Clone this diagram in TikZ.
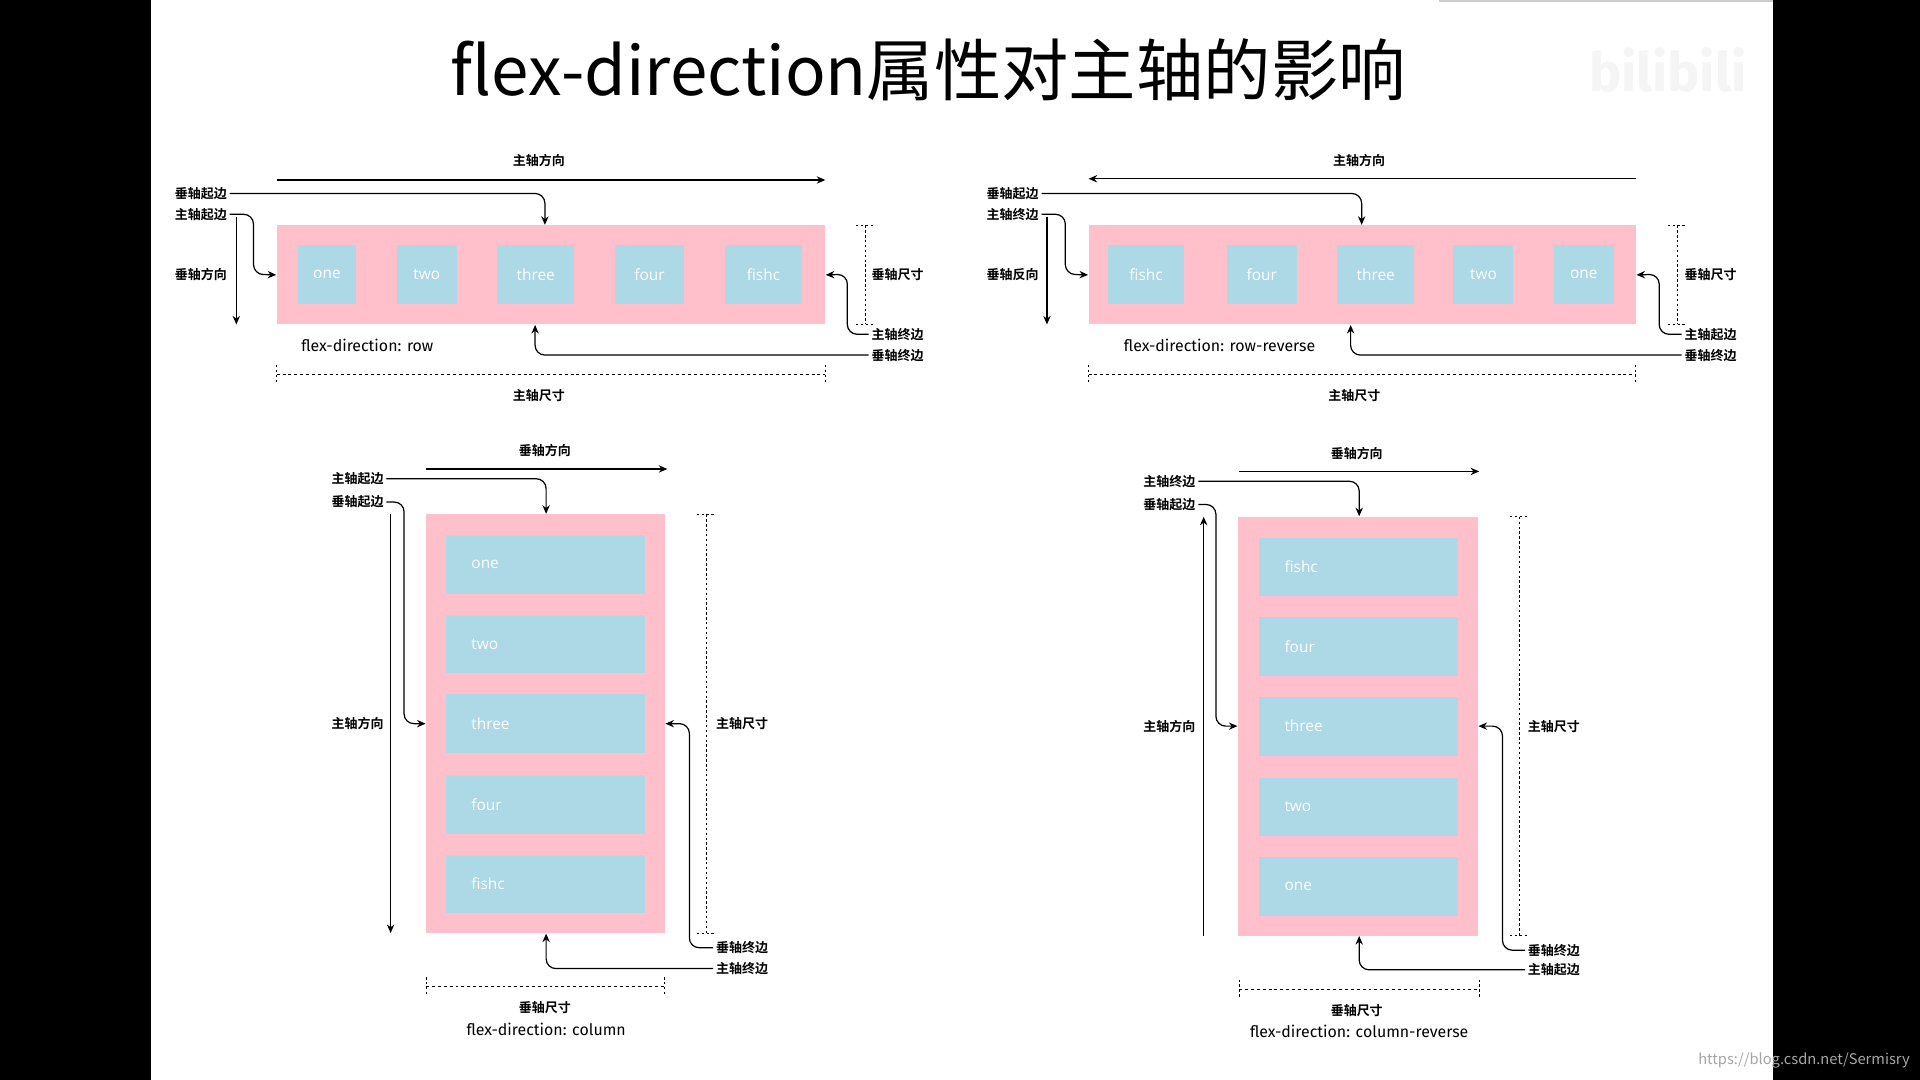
\documentclass[tikz,border=0pt]{standalone}
\usepackage{fontspec}
\setmainfont{Noto Sans CJK SC}
\newfontfamily\cjkb{Noto Sans CJK SC Bold}
\newfontfamily\itf{Open Sans}
\newfontfamily\capf{Fira Sans}
\usetikzlibrary{arrows.meta}
\definecolor{pinkc}{HTML}{FFC0CB}
\definecolor{bluec}{HTML}{ADD8E6}
\tikzset{
  lab/.style={font=\cjkb\fontsize{5.3}{6}\selectfont, inner sep=1pt},
  captext/.style={font=\capf\fontsize{6.5}{8}\selectfont, inner sep=1pt},
  pinkbox/.style={fill=pinkc, inner sep=0pt},
  item/.style={fill=bluec, inner sep=0pt, text=white, font=\itf\fontsize{6.3}{7}\selectfont},
  itemtext/.style={text=white, font=\itf\fontsize{6.3}{7}\selectfont, inner sep=0pt},
  arr/.style={-{Stealth[length=3.5pt,width=3pt]}, line width=0.5pt, rounded corners=4pt},
  ln/.style={line width=0.5pt},
  dim/.style={line width=0.4pt, dash pattern=on 1.2pt off 1.2pt},
  dimt/.style={line width=0.4pt, dash pattern=on 1pt off 1pt}
}
\newcommand\bx[7]{\node[#6, minimum width={(#4-#2)*0.5pt}, minimum height={(#5-#3)*0.5pt}] (#1) at ({(#2+#4)/2},{(#3+#5)/2}) {#7};}
\newcommand\cbx[7]{\node[#6, minimum width={(#4-#2)*0.5pt}, minimum height={(#5-#3)*0.5pt}, label={[itemtext,anchor=west,xshift=10.5pt]west:#7}] (#1) at ({(#2+#4)/2},{(#3+#5)/2}) {};}
\begin{document}
\begin{tikzpicture}[x=0.5pt,y=-0.5pt]
\fill[black] (0,0) rectangle (1568,882);
\useasboundingbox (0,0) rectangle (1568,882);
\fill[white] (123,0) rectangle (1448,882);
\fill[gray!40] (1175,0) rectangle (1448,2);
\node[font=\fontsize{27.5}{31}\selectfont, inner sep=0] (title) at (758,57) {flex-direction属性对主轴的影响};
\node[font=\capf\bfseries\fontsize{22}{24}\selectfont, text=gray!8, inner sep=0] (logo) at (1362,57) {bilibili};
\node[font=\fontsize{6}{7}\selectfont, text=gray!70, anchor=east, inner sep=0] (url) at (1560,866) {https://blog.csdn.net/Sermisry};

% ===== panel 1 : row =====
\bx{p1}{226}{184}{674}{265}{pinkbox}{}
\bx{a1}{243}{200}{291}{248}{item}{one}
\bx{b1}{324}{200}{373}{248}{item}{two}
\bx{c1}{406}{200}{469}{248}{item}{three}
\bx{d1}{502}{200}{559}{248}{item}{four}
\bx{e1}{592}{200}{655}{248}{item}{fishc}
\node[lab] (l1a) at (440,131) {主轴方向};
\coordinate (s1a) at (226,147); \coordinate (t1a) at (674,147);
\draw[arr] (s1a) -- (t1a);
\node[lab] (l1b) at (164,158) {垂轴起边};
\draw[arr] (l1b.east) -- (445,158) -- (p1.north-|445,0);
\node[lab] (l1c) at (164,175) {主轴起边};
\draw[arr] (l1c.east) -- (207,175) -- (207,224) -- (p1.west);
\node[lab] (l1d) at (164,224) {垂轴方向};
\coordinate (s1d) at (193,177); \coordinate (t1d) at (193,265);
\draw[arr] (s1d) -- (t1d);
\node[lab] (l1e) at (733,224) {垂轴尺寸};
\draw[dimt] (707,184) -- (707,265); \draw[dimt] (699,184) -- (715,184) (699,265) -- (715,265);
\node[lab] (l1f) at (733,273) {主轴终边};
\draw[arr] (l1f.west) -- (692,273) -- (692,224) -- (p1.east);
\node[lab] (l1g) at (733,290) {垂轴终边};
\draw[arr] (l1g.west) -- (437,290) -- (p1.south-|437,0);
\node[captext] (c1) at (300,282) {flex-direction: row};
\draw[dim] (226,306) -- (674,306); \draw[dimt] (226,298) -- (226,314) (674,298) -- (674,314);
\node[lab] (l1h) at (440,323) {主轴尺寸};

% ===== panel 2 : row-reverse =====
\bx{p2}{889}{184}{1336}{265}{pinkbox}{}
\bx{a2}{905}{200}{967}{248}{item}{fishc}
\bx{b2}{1002}{200}{1059}{248}{item}{four}
\bx{c2}{1092}{200}{1155}{248}{item}{three}
\bx{d2}{1187}{200}{1236}{248}{item}{two}
\bx{e2}{1269}{200}{1318}{248}{item}{one}
\node[lab] (l2a) at (1110,131) {主轴方向};
\coordinate (s2a) at (1336,146); \coordinate (t2a) at (889,146);
\draw[arr] (s2a) -- (t2a);
\node[lab] (l2b) at (827,158) {垂轴起边};
\draw[arr] (l2b.east) -- (1112,158) -- (p2.north-|1112,0);
\node[lab] (l2c) at (827,175) {主轴终边};
\draw[arr] (l2c.east) -- (870,175) -- (870,224) -- (p2.west);
\node[lab] (l2d) at (827,224) {垂轴反向};
\coordinate (s2d) at (855,177); \coordinate (t2d) at (855,265);
\draw[arr] (s2d) -- (t2d);
\node[lab] (l2e) at (1397,224) {垂轴尺寸};
\draw[dimt] (1370,184) -- (1370,265); \draw[dimt] (1362,184) -- (1378,184) (1362,265) -- (1378,265);
\node[lab] (l2f) at (1397,273) {主轴起边};
\draw[arr] (l2f.west) -- (1355,273) -- (1355,224) -- (p2.east);
\node[lab] (l2g) at (1397,290) {垂轴终边};
\draw[arr] (l2g.west) -- (1103,290) -- (p2.south-|1103,0);
\node[captext] (c2) at (996,282) {flex-direction: row-reverse};
\draw[dim] (889,306) -- (1336,306); \draw[dimt] (889,298) -- (889,314) (1336,298) -- (1336,314);
\node[lab] (l2h) at (1106,323) {主轴尺寸};

% ===== panel 3 : column =====
\bx{p3}{348}{420}{543}{762}{pinkbox}{}
\cbx{a3}{364}{437}{527}{485}{item}{one}
\cbx{b3}{364}{502}{527}{550}{item}{two}
\cbx{c3}{364}{567}{527}{615}{item}{three}
\cbx{d3}{364}{633}{527}{681}{item}{four}
\cbx{e3}{364}{698}{527}{746}{item}{fishc}
\node[lab] (l3a) at (445,368) {垂轴方向};
\coordinate (s3a) at (348,383); \coordinate (t3a) at (545,383);
\draw[arr] (s3a) -- (t3a);
\node[lab] (l3b) at (292,391) {主轴起边};
\draw[arr] (l3b.east) -- (446,391) -- (p3.north-|446,0);
\node[lab] (l3c) at (292,410) {垂轴起边};
\draw[arr] (l3c.east) -- (330,410) -- (330,591) -- (p3.west);
\node[lab] (l3d) at (292,591) {主轴方向};
\coordinate (s3d) at (319,420); \coordinate (t3d) at (319,762);
\draw[arr] (s3d) -- (t3d);
\node[lab] (l3e) at (606,591) {主轴尺寸};
\draw[dimt] (577,420) -- (577,762); \draw[dimt] (569,420) -- (585,420) (569,762) -- (585,762);
\node[lab] (l3f) at (606,774) {垂轴终边};
\draw[arr] (l3f.west) -- (563,774) -- (563,591) -- (p3.east);
\node[lab] (l3g) at (606,791) {主轴终边};
\draw[arr] (l3g.west) -- (446,791) -- (p3.south-|446,0);
\draw[dim] (348,806) -- (543,806); \draw[dimt] (348,798) -- (348,814) (543,798) -- (543,814);
\node[lab] (l3h) at (445,823) {垂轴尺寸};
\node[captext] (c3) at (446,841) {flex-direction: column};

% ===== panel 4 : column-reverse =====
\bx{p4}{1011}{422}{1207}{764}{pinkbox}{}
\cbx{a4}{1028}{439}{1191}{487}{item}{fishc}
\cbx{b4}{1028}{504}{1191}{552}{item}{four}
\cbx{c4}{1028}{569}{1191}{617}{item}{three}
\cbx{d4}{1028}{635}{1191}{683}{item}{two}
\cbx{e4}{1028}{700}{1191}{748}{item}{one}
\node[lab] (l4a) at (1108,370) {垂轴方向};
\coordinate (s4a) at (1012,385); \coordinate (t4a) at (1208,385);
\draw[arr] (s4a) -- (t4a);
\node[lab] (l4b) at (955,393) {主轴终边};
\draw[arr] (l4b.east) -- (1110,393) -- (p4.north-|1110,0);
\node[lab] (l4c) at (955,412) {垂轴起边};
\draw[arr] (l4c.east) -- (993,412) -- (993,593) -- (p4.west);
\node[lab] (l4d) at (955,593) {主轴方向};
\coordinate (s4d) at (983,764); \coordinate (t4d) at (983,422);
\draw[arr] (s4d) -- (t4d);
\node[lab] (l4e) at (1269,593) {主轴尺寸};
\draw[dimt] (1241,422) -- (1241,764); \draw[dimt] (1233,422) -- (1249,422) (1233,764) -- (1249,764);
\node[lab] (l4f) at (1269,776) {垂轴终边};
\draw[arr] (l4f.west) -- (1227,776) -- (1227,593) -- (p4.east);
\node[lab] (l4g) at (1269,792) {主轴起边};
\draw[arr] (l4g.west) -- (1110,792) -- (p4.south-|1110,0);
\draw[dim] (1012,808) -- (1208,808); \draw[dimt] (1012,800) -- (1012,816) (1208,800) -- (1208,816);
\node[lab] (l4h) at (1108,825) {垂轴尺寸};
\node[captext] (c4) at (1110,842) {flex-direction: column-reverse};
\end{tikzpicture}
\end{document}
